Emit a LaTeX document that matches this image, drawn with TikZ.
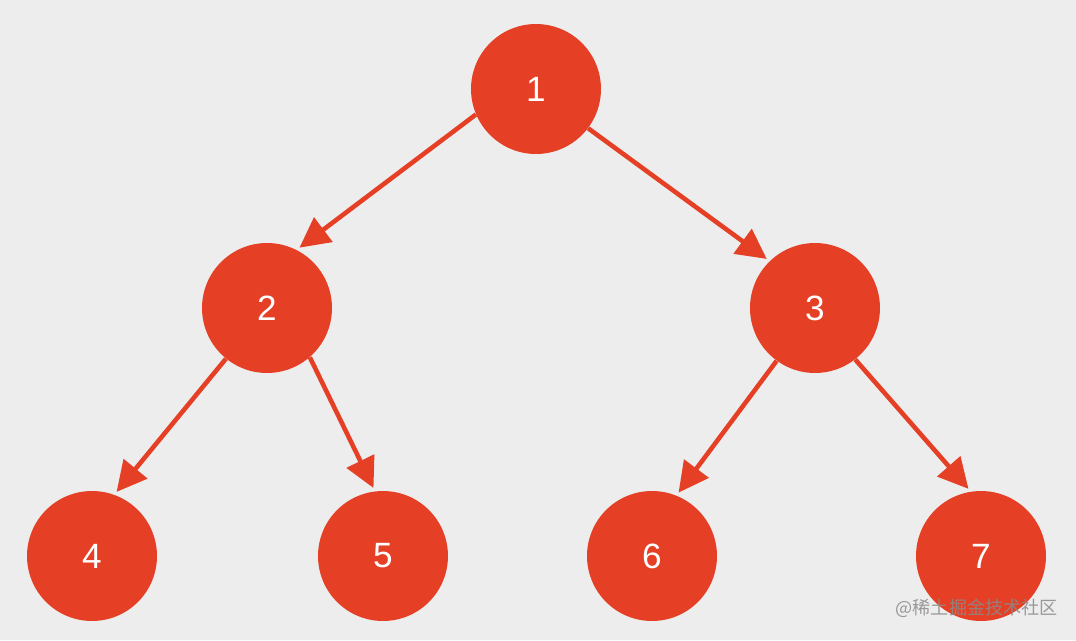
\documentclass[tikz,border=0pt]{standalone}
\usepackage{fontspec}
\setmainfont{Liberation Sans}
\newfontfamily\cjk{Noto Sans CJK SC}
\usetikzlibrary{arrows.meta}
\definecolor{bgee}{HTML}{EDEDED}
\definecolor{nodered}{HTML}{E54025}
\definecolor{markgray}{HTML}{8A8A8A}

\begin{document}
\begin{tikzpicture}[x=0.02cm,y=-0.02cm,
  treenode/.style={circle,fill=nodered,text=white,minimum size=2.6cm,inner sep=0pt,font=\fontsize{20}{22}\selectfont},
  edge/.style={draw=nodered,line width=2.6pt,-{Triangle[length=0.6cm,width=0.6cm]},shorten >=2pt}]
\fill[bgee] (0,0) rectangle (1076,640);
\useasboundingbox (0,0) rectangle (1076,640);
% tree nodes
\node[treenode] (n1) at (536,89) {1};
\node[treenode] (n2) at (267,308) {2};
\node[treenode] (n3) at (815,308) {3};
\node[treenode] (n4) at (92,556) {4};
\node[treenode] (n5) at (383,556) {5};
\node[treenode] (n6) at (652,556) {6};
\node[treenode] (n7) at (981,556) {7};
% edges, leaving and entering at fixed angles
\draw[edge] (n1.203) -- (n2.63);
\draw[edge] (n1.-37) -- (n3.134);
\draw[edge] (n2.231) -- (n4.70);
\draw[edge] (n2.-49) -- (n5.97);
\draw[edge] (n3.234) -- (n6.68);
\draw[edge] (n3.-52) -- (n7.99);
% watermark
\node[anchor=east,inner sep=0pt,text=markgray,opacity=0.85,font=\cjk\fontsize{10.3}{12}\selectfont] (mark) at (1058,608) {@稀土掘金技术社区};
\end{tikzpicture}
\end{document}
